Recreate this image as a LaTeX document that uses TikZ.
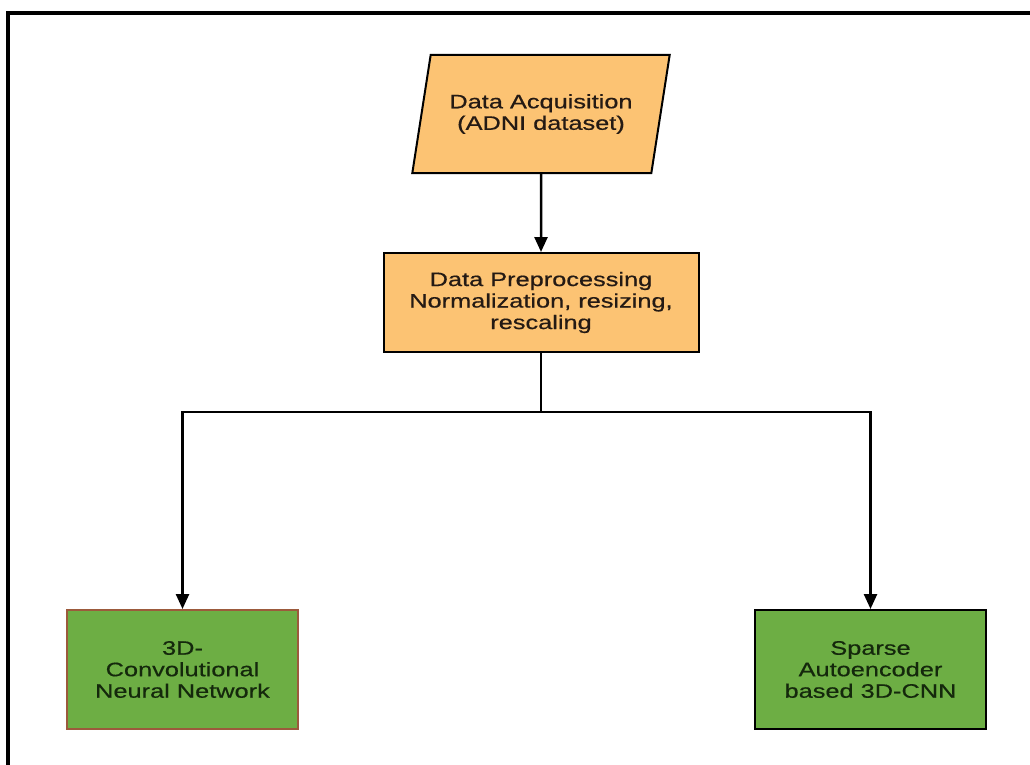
\documentclass[tikz,border=0pt]{standalone}
\usepackage{fontspec}
\setmainfont[FakeStretch=1.3,FakeBold=0.6]{Liberation Sans}
\usetikzlibrary{shapes.geometric,arrows.meta}
\definecolor{orangefill}{HTML}{FCC373}
\definecolor{greenfill}{HTML}{6DAE44}
\definecolor{brownline}{HTML}{9C5A3C}
\definecolor{darktext}{HTML}{241A14}
\definecolor{greentext}{HTML}{14280C}
\tikzset{
  boxtext/.style={align=center, font=\fontsize{19.5}{21.5}\selectfont, inner sep=0pt},
  orangebox/.style={boxtext, draw=black, line width=2pt, fill=orangefill, text=darktext},
  greenbox/.style={boxtext, draw=black, line width=2pt, fill=greenfill, text=greentext,
    minimum width=231pt, minimum height=119pt},
  conn/.style={line width=2.5pt, draw=black},
  arr/.style={conn, -{Triangle[width=13pt,length=15pt]}},
}
\begin{document}
\begin{tikzpicture}[x=1pt,y=-1pt]
\useasboundingbox (0,0) rectangle (1030,765);
\clip (0,0) rectangle (1030,765);
\fill[white] (0,0) rectangle (1030,765);
\draw[line width=4pt] (1040,13) -- (8,13) -- (8,775);

\node[orangebox, trapezium, trapezium left angle=69, trapezium right angle=111,
  trapezium stretches=true, minimum width=258pt, minimum height=118pt]
  (acq) at (541,114) {Data Acquisition\\(ADNI dataset)};
\node[orangebox, minimum width=315pt, minimum height=99pt]
  (pre) at (541,302.5) {Data Preprocessing\\Normalization, resizing,\\rescaling};
\node[greenbox, draw=brownline] (cnn) at (182.5,669.5) {3D-\\Convolutional\\Neural Network};
\node[greenbox] (sae) at (870.5,669.5) {Sparse\\Autoencoder\\based 3D-CNN};
\coordinate (split) at (541,412);

\draw[arr] (acq.south) -- (pre.north);
\draw[conn] (pre.south) -- (split);
\draw[arr] (split) -| (cnn.north);
\draw[arr] (split) -| (sae.north);
\end{tikzpicture}
\end{document}
